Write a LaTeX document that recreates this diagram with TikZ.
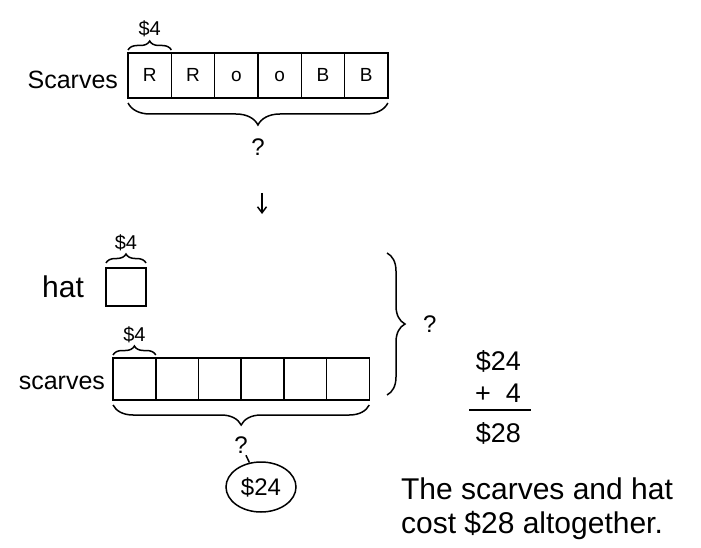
\documentclass[tikz,border=0pt]{standalone}
\usepackage{fontspec}
\setmainfont{Liberation Sans}
\usetikzlibrary{arrows.meta,positioning,shapes.geometric,decorations.pathreplacing}

\begin{document}
\begin{tikzpicture}[x=1pt,y=-1pt,>={Straight Barb[length=6pt,width=9pt]},line width=1.5pt,
  every node/.style={font=\fontsize{24}{28}\selectfont}]
\tikzstyle{cell}=[draw,outer sep=0pt,minimum width=43.3pt,minimum height=45pt,text height=13pt,text depth=0pt,font=\fontsize{19}{22}\selectfont]
\tikzstyle{cellb}=[draw,outer sep=0pt,minimum width=42.7pt,minimum height=42pt]
\tikzstyle{lbl}=[font=\fontsize{25}{30}\selectfont]
\tikzstyle{cost}=[font=\fontsize{20}{24}\selectfont,inner sep=1pt]
\tikzstyle{sumline}=[font=\fontsize{27}{32}\selectfont,anchor=east]
\tikzset{brc/.style={decorate,decoration={brace,amplitude=#1}}}
\useasboundingbox (0,0) rectangle (701,548);

% first strip: six scarves
\node[cell] (r1) at (149.7,75.5) {R};
\node[cell,right=0pt of r1] (r2) {R};
\node[cell,right=0pt of r2] (r3) {o};
\node[cell,right=0pt of r3] (r4) {o};
\node[cell,right=0pt of r4] (r5) {B};
\node[cell,right=0pt of r5] (r6) {B};
\node[lbl,left=6pt of r1,yshift=-4pt] (scarfA) {Scarves};
\draw[brc=9pt] ([yshift=3pt]r1.north west) -- ([yshift=3pt]r1.north east)
  node[cost,midway,above=11pt] (costA) {\$4};
\draw[brc=22pt,decoration={mirror}] ([yshift=-5pt]r1.south west) -- ([yshift=-5pt]r6.south east)
  node[midway,below=34pt,inner sep=1pt] (qA) {?};

% arrow
\coordinate (a1) at (262,193);
\coordinate (a2) at (262,214);
\draw[->] (a1) -- (a2);

% hat
\node[draw,outer sep=0pt,minimum width=40pt,minimum height=38pt] (hat) at (126,287) {};
\node[lbl,left=18pt of hat,font=\fontsize{30}{34}\selectfont] (hatlbl) {hat};
\draw[brc=9pt] ([yshift=5pt]hat.north west) -- ([yshift=5pt]hat.north east)
  node[cost,midway,above=10pt] (costH) {\$4};

% second strip: scarves
\node[cellb] (c1) at (134.4,379) {};
\node[cellb,right=0pt of c1] (c2) {};
\node[cellb,right=0pt of c2] (c3) {};
\node[cellb,right=0pt of c3] (c4) {};
\node[cellb,right=0pt of c4] (c5) {};
\node[cellb,right=0pt of c5] (c6) {};
\node[lbl,left=4pt of c1,yshift=-4pt] (scarfB) {scarves};
\draw[brc=9pt] ([yshift=3pt]c1.north west) -- ([yshift=3pt]c1.north east)
  node[cost,midway,above=10pt] (costB) {\$4};
\draw[brc=20pt,decoration={mirror}] ([yshift=-5pt]c1.south west) -- ([yshift=-5pt]c6.south east)
  node[midway,below=30pt,inner sep=1pt] (qB) {?};
\node[draw,ellipse,minimum width=70pt,minimum height=50pt] (sum) at (261,487) {\$24};
\draw (qB) -- (sum);

% whole brace
\coordinate (t1) at (387,253);
\coordinate (t2) at (387,395);
\draw[brc=18pt] (t1) -- (t2) node[midway,right=32pt] (qC) {?};

% working
\node[sumline] (n24) at (525,361) {\$24};
\node[sumline] (n4) at (525,393) {+\ \ 4};
\coordinate (l1) at (469,410);
\coordinate (l2) at (531,410);
\draw (l1) -- (l2);
\node[sumline] (n28) at (525,433) {\$28};

\node[align=left,anchor=north west,font=\fontsize{30}{34}\selectfont] (answer) at (397,474)
  {The scarves and hat\\cost \$28 altogether.};
\end{tikzpicture}
\end{document}
